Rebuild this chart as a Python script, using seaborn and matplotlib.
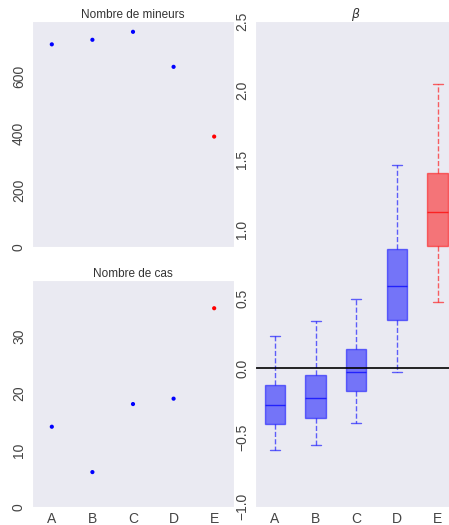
import matplotlib
matplotlib.use("Agg")
import matplotlib.pyplot as plt
import seaborn as sns
import pandas as pd

# data
categories = ["A", "B", "C", "D", "E"]
point_colors = ["blue", "blue", "blue", "blue", "red"]
miners = [711, 727, 755, 632, 387]
cases = [14.1, 6.1, 18.1, 19.05, 35.0]

beta_whislo = [-0.594, -0.556, -0.396, -0.032, 0.473]
beta_q1 = [-0.404, -0.358, -0.167, 0.343, 0.879]
beta_med = [-0.268, -0.215, -0.029, 0.589, 1.125]
beta_q3 = [-0.121, -0.053, 0.133, 0.857, 1.406]
beta_whishi = [0.229, 0.336, 0.500, 1.466, 2.046]

sns.set_style("dark")
plt.rcParams["font.family"] = ["Liberation Sans", "DejaVu Sans"]
plt.rcParams["font.size"] = 10
plt.rcParams["xtick.color"] = "#444444"
plt.rcParams["ytick.color"] = "#444444"

df = pd.DataFrame({"cat": categories, "miners": miners, "cases": cases,
                   "col": point_colors})
palette = {"blue": "blue", "red": "red"}

fig = plt.figure(figsize=(4.49, 5.25), dpi=100)
ax1 = fig.add_axes([0.0702, 0.530, 0.452, 0.430])
ax2 = fig.add_axes([0.0702, 0.0349, 0.452, 0.432])
ax3 = fig.add_axes([0.567, 0.0349, 0.453, 0.925])

for ax, col, title in [(ax1, "miners", "Nombre de mineurs"),
                       (ax2, "cases", "Nombre de cas")]:
    sns.scatterplot(data=df, x="cat", y=col, hue="col", palette=palette,
                    s=9, linewidth=0, legend=False, ax=ax)
    ax.set_xlim(-0.5, 4.5)
    ax.set_title(title, fontsize=8.5, color="#333333", pad=2)
    ax.set_xlabel("")
    ax.set_ylabel("")

ax1.set_ylim(0, 793)
ax1.set_yticks([0, 200, 400, 600])
ax1.set_xticklabels([])
ax2.set_ylim(0, 40)
ax2.set_yticks([0, 10, 20, 30])

stats = []
for i, c in enumerate(categories):
    stats.append({"label": c, "whislo": beta_whislo[i], "q1": beta_q1[i],
                  "med": beta_med[i], "q3": beta_q3[i],
                  "whishi": beta_whishi[i], "fliers": []})

for i, st in enumerate(stats):
    c = point_colors[i]
    ax3.bxp([st], positions=[i], widths=0.5, patch_artist=True,
            boxprops=dict(facecolor=c, edgecolor=c, alpha=0.5),
            whiskerprops=dict(color=c, linestyle="--", alpha=0.6),
            capprops=dict(color=c, alpha=0.6),
            medianprops=dict(color=c, alpha=0.7),
            showfliers=False)

ax3.axhline(0, color="black", lw=1.2)
ax3.set_xlim(-0.5, 4.5)
ax3.set_xticks(range(len(categories)))
ax3.set_xticklabels(categories)
ax3.set_ylim(-1.0, 2.5)
ax3.set_yticks([-1.0, -0.5, 0.0, 0.5, 1.0, 1.5, 2.0, 2.5])
ax3.set_title(r"$\beta$", fontsize=9, color="#333333", pad=2)

for ax in (ax1, ax2, ax3):
    ax.tick_params(axis="y", labelrotation=90, length=0, pad=4)
    ax.tick_params(axis="x", length=1.5, pad=2)
    for lab in ax.get_yticklabels():
        lab.set_va("center")

fig.savefig("out.png", dpi=100)
